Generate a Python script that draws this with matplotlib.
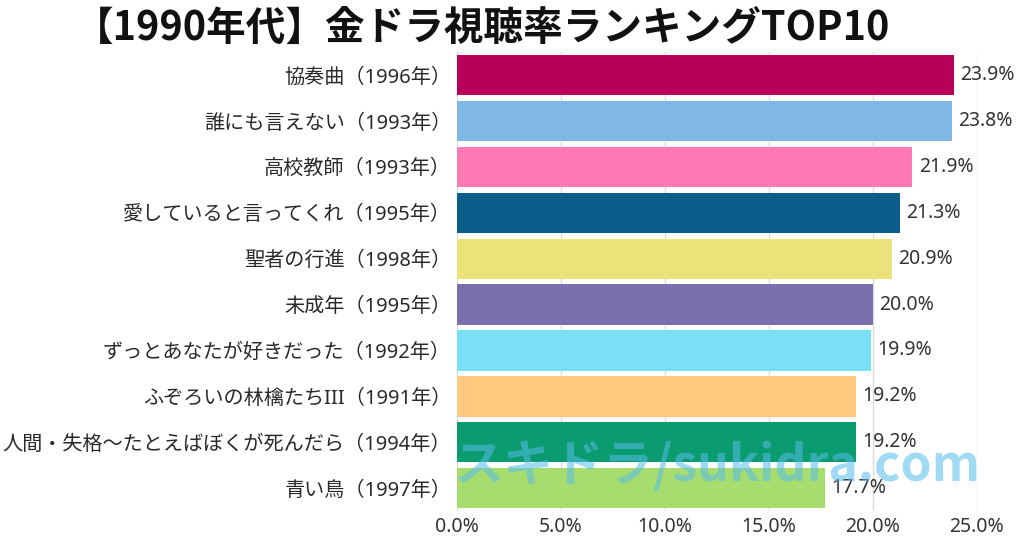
import numpy as np
import matplotlib.pyplot as plt
from matplotlib.ticker import FuncFormatter

plt.rcParams['font.family'] = ['Noto Sans', 'Noto Sans CJK JP', 'DejaVu Sans']

# data
titles = ['協奏曲（1996年）', '誰にも言えない（1993年）', '高校教師（1993年）',
          '愛していると言ってくれ（1995年）', '聖者の行進（1998年）', '未成年（1995年）',
          'ずっとあなたが好きだった（1992年）', 'ふぞろいの林檎たちIII（1991年）',
          '人間・失格〜たとえばぼくが死んだら（1994年）', '青い鳥（1997年）']
ratings = [23.9, 23.8, 21.9, 21.3, 20.9, 20.0, 19.9, 19.2, 19.2, 17.7]
colors = ['#B8005A', '#7FB8E4', '#FF7AB4', '#0B5E8A', '#EBE27A',
          '#7B6FAD', '#7ADFF8', '#FFC87E', '#0A9B6E', '#A7DD6E']
xticks = [0, 5, 10, 15, 20, 25]

fig = plt.figure(figsize=(10.24, 5.38), dpi=100)
ax = fig.add_axes([0.446, 0.050, 0.508, 0.853])

y = np.arange(len(titles))
ax.barh(y, ratings, height=0.88, color=colors, zorder=2)
for yi, v in zip(y, ratings):
    ax.text(v + 0.3, yi, f'{v:.1f}%', va='center', ha='left',
            fontsize=14, color='#333333', zorder=3)

ax.set_ylim(len(titles) - 0.5, -0.5)
ax.set_xlim(0, 25)
ax.set_yticks(y)
ax.set_yticklabels(titles, fontsize=14.5, color='#2a2a2a')
ax.set_xticks(xticks)
ax.xaxis.set_major_formatter(FuncFormatter(lambda v, p: f'{v:.1f}%'))
ax.tick_params(axis='x', labelsize=14, colors='#333333', length=0, pad=4)
ax.tick_params(axis='y', length=0, pad=4)
ax.grid(axis='x', color='#dddddd', linewidth=1, zorder=0)
for s in ax.spines.values():
    s.set_visible(False)

fig.text(0.471, 0.948, '【1990年代】金ドラ視聴率ランキングTOP10', ha='center', va='center',
         fontsize=28.5, fontweight='bold', color='#111111',
         family=['Noto Sans CJK JP', 'DejaVu Sans'])

# watermark
fig.text(0.70, 0.132, 'スキドラ/sukidra.com', ha='center', va='center',
         fontsize=36, fontweight='bold', color='#55BDEB', alpha=0.55, zorder=10,
         family=['Noto Sans CJK JP', 'DejaVu Sans'])

fig.savefig('out.png', dpi=100)
